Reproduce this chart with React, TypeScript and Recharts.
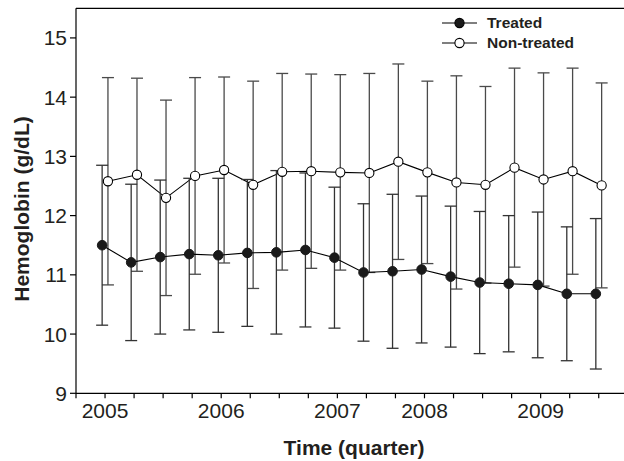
import { CartesianGrid, ErrorBar, Legend, Line, LineChart, ReferenceLine, XAxis, YAxis } from "recharts"

// quarter slots on the time axis (2005 Q1 .. 2009 Q2)
const QUARTERS = [1, 2, 3, 4, 5, 6, 7, 8, 9, 10, 11, 12, 13, 14, 15, 16, 17, 18]

const TREATED_MEAN = [11.5, 11.21, 11.3, 11.35, 11.33, 11.37, 11.38, 11.42, 11.29, 11.04, 11.06, 11.09, 10.97, 10.87, 10.85, 10.83, 10.68, 10.68]
const TREATED_SD = [1.35, 1.32, 1.3, 1.28, 1.3, 1.24, 1.38, 1.3, 1.19, 1.16, 1.3, 1.24, 1.19, 1.2, 1.15, 1.23, 1.13, 1.27]

const NON_TREATED_MEAN = [12.58, 12.69, 12.3, 12.67, 12.77, 12.52, 12.74, 12.75, 12.73, 12.72, 12.91, 12.73, 12.56, 12.52, 12.81, 12.61, 12.75, 12.51]
const NON_TREATED_SD = [1.75, 1.63, 1.65, 1.66, 1.57, 1.75, 1.66, 1.64, 1.65, 1.68, 1.65, 1.54, 1.8, 1.66, 1.68, 1.8, 1.74, 1.73]

const X_TICKS = [0, 1, 2, 3, 4, 5, 6, 7, 8, 9, 10, 11, 12, 13, 14, 15, 16, 17, 18]
const YEAR_TICKS = [1, 5, 9, 12, 16]
const YEAR_LABELS = ["2005", "2006", "2007", "2008", "2009"]
const Y_TICKS = [9, 10, 11, 12, 13, 14, 15]

// small horizontal dodge so the two groups don't overlap
const DODGE = 0.1

const FONT = '"Liberation Sans", Arial, Helvetica, sans-serif'
const INK = "#231f20"

const treatedData = QUARTERS.map((q, i) => ({ x: q - DODGE, y: TREATED_MEAN[i], sd: TREATED_SD[i] }))
const nonTreatedData = QUARTERS.map((q, i) => ({ x: q + DODGE, y: NON_TREATED_MEAN[i], sd: NON_TREATED_SD[i] }))

const formatYear = (v: number) => {
  const idx = YEAR_TICKS.indexOf(v)
  return idx >= 0 ? YEAR_LABELS[idx] : ""
}

function XTitle(props: any) {
  const { viewBox } = props
  const cx = viewBox.x + viewBox.width / 2 + 4
  return (
    <text x={cx} y={455} textAnchor="middle" fontFamily={FONT} fontSize={21} fontWeight="bold" fill={INK}>
      Time (quarter)
    </text>
  )
}

function YTitle() {
  return (
    <text
      x={28.5}
      y={209}
      transform="rotate(-90 28.5 209)"
      textAnchor="middle"
      fontFamily={FONT}
      fontSize={21}
      fontWeight="bold"
      fill={INK}
    >
      Hemoglobin (g/dL)
    </text>
  )
}

function LegendBox() {
  const rows = [
    { label: "Treated", fill: "#1a1a1a" },
    { label: "Non-treated", fill: "#ffffff" },
  ]
  return (
    <div style={{ fontFamily: FONT }}>
      {rows.map((r) => (
        <div key={r.label} style={{ display: "flex", alignItems: "center", height: 20 }}>
          <svg width={36} height={12} style={{ display: "block" }}>
            <line x1={0} y1={6} x2={35} y2={6} stroke="#000" strokeWidth={1.2} />
            <circle cx={17.5} cy={6} r={4.6} fill={r.fill} stroke="#000" strokeWidth={1.1} />
          </svg>
          <span style={{ marginLeft: 9, fontSize: 15.5, fontWeight: "bold", color: INK, lineHeight: "20px" }}>{r.label}</span>
        </div>
      ))}
    </div>
  )
}

export default function App() {
  return (
    <div style={{ position: "absolute", left: 0, top: 0, width: 624, height: 461, background: "#fff" }}>
      <LineChart width={624} height={461} margin={{ top: 8.3, right: 0, bottom: 0, left: 0 }}>
        <CartesianGrid stroke="none" />
        <XAxis
          type="number"
          dataKey="x"
          domain={[0, 18.87]}
          ticks={X_TICKS}
          interval={0}
          tickFormatter={formatYear}
          height={67.7}
          tickSize={5}
          tickMargin={5}
          stroke="#000"
          strokeWidth={1.2}
          tick={{ fontSize: 21, fill: INK, fontFamily: FONT }}
          allowDataOverflow
          label={{ content: XTitle }}
        />
        <YAxis
          type="number"
          domain={[9, 15.5]}
          ticks={Y_TICKS}
          interval={0}
          width={76}
          tickSize={6}
          tickMargin={3}
          stroke="#000"
          strokeWidth={1.2}
          tick={{ fontSize: 21, fill: INK, fontFamily: FONT }}
          allowDataOverflow
          label={{ content: YTitle }}
        />
        <ReferenceLine y={15.5} stroke="#000" strokeWidth={1.2} />
        {/* vertical + centred layout keeps the legend from reserving plot space */}
        <Legend
          layout="vertical"
          align="center"
          verticalAlign="middle"
          content={LegendBox}
          wrapperStyle={{ position: "absolute", left: 442, top: 13.3, width: "auto", height: "auto" }}
        />
        <Line
          data={nonTreatedData}
          dataKey="y"
          name="Non-treated"
          stroke="#000"
          strokeWidth={1.1}
          dot={{ r: 4.6, fill: "#fff", stroke: "#000", strokeWidth: 1.1 }}
          activeDot={false}
          isAnimationActive={false}
        >
          <ErrorBar dataKey="sd" direction="y" width={6} stroke="#4a4a4a" strokeWidth={1.3} isAnimationActive={false} />
        </Line>
        <Line
          data={treatedData}
          dataKey="y"
          name="Treated"
          stroke="#000"
          strokeWidth={1.1}
          dot={{ r: 4.8, fill: "#1a1a1a", stroke: "#1a1a1a", strokeWidth: 1 }}
          activeDot={false}
          isAnimationActive={false}
        >
          <ErrorBar dataKey="sd" direction="y" width={6} stroke="#333" strokeWidth={1.3} isAnimationActive={false} />
        </Line>
      </LineChart>
    </div>
  )
}
